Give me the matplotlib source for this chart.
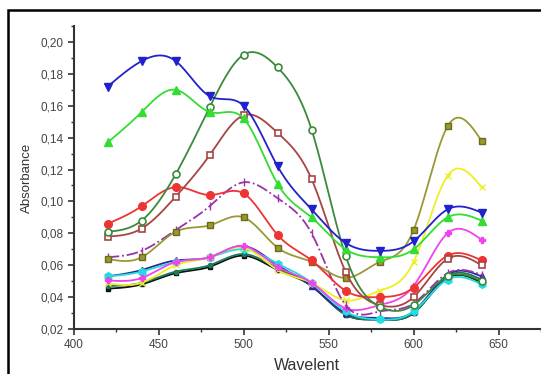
import numpy as np
import matplotlib.pyplot as plt
from matplotlib.patches import Rectangle
from matplotlib.ticker import MultipleLocator

plt.rcParams['font.family'] = ['Liberation Sans', 'DejaVu Sans']

# Comprimentos de onda medidos
wavelength = [420, 440, 460, 480, 500, 520, 540, 560, 580, 600, 620, 640]

# Absorbancias de cada amostra
abs_blue = [0.172, 0.188, 0.188, 0.166, 0.160, 0.122, 0.095, 0.074, 0.069, 0.075, 0.095, 0.093]
abs_green = [0.137, 0.156, 0.170, 0.156, 0.152, 0.111, 0.090, 0.070, 0.065, 0.070, 0.090, 0.088]
abs_darkgreen = [0.081, 0.088, 0.117, 0.159, 0.192, 0.184, 0.145, 0.066, 0.034, 0.035, 0.053, 0.050]
abs_brown = [0.078, 0.083, 0.103, 0.129, 0.154, 0.143, 0.114, 0.056, 0.035, 0.040, 0.064, 0.060]
abs_red = [0.086, 0.097, 0.109, 0.104, 0.105, 0.079, 0.063, 0.044, 0.040, 0.046, 0.066, 0.063]
abs_purple = [0.065, 0.069, 0.082, 0.097, 0.112, 0.102, 0.080, 0.035, 0.031, 0.036, 0.055, 0.054]
abs_olive = [0.064, 0.065, 0.081, 0.085, 0.090, 0.071, 0.062, 0.052, 0.062, 0.082, 0.147, 0.138]
abs_yellow = [0.0487, 0.049, 0.060, 0.065, 0.071, 0.057, 0.049, 0.038, 0.044, 0.062, 0.116, 0.109]
abs_magenta = [0.0505, 0.052, 0.062, 0.065, 0.072, 0.059, 0.049, 0.033, 0.035, 0.047, 0.080, 0.076]
abs_cyan = [0.053, 0.056, 0.062, 0.065, 0.070, 0.061, 0.049, 0.031, 0.026, 0.031, 0.051, 0.048]
abs_navy = [0.053, 0.057, 0.063, 0.065, 0.072, 0.060, 0.047, 0.030, 0.027, 0.031, 0.054, 0.053]
abs_teal = [0.047, 0.049, 0.056, 0.060, 0.067, 0.058, 0.047, 0.029, 0.026, 0.030, 0.053, 0.051]
abs_black = [0.0453, 0.048, 0.055, 0.059, 0.066, 0.057, 0.047, 0.029, 0.026, 0.030, 0.052, 0.049]

# Rotulos dos eixos
xticks = [400, 450, 500, 550, 600, 650]
yticks = [0.02, 0.04, 0.06, 0.08, 0.10, 0.12, 0.14, 0.16, 0.18, 0.20]
ytick_labels = ['0,02', '0,04', '0,06', '0,08', '0,10', '0,12', '0,14', '0,16', '0,18', '0,20']


# Spline cubica natural para suavizar as curvas
def spline(x, y, n=300):
    x = np.asarray(x, float)
    y = np.asarray(y, float)
    k = len(x)
    h = np.diff(x)
    A = np.zeros((k, k))
    r = np.zeros(k)
    A[0, 0] = 1
    A[-1, -1] = 1
    for i in range(1, k - 1):
        A[i, i - 1] = h[i - 1]
        A[i, i] = 2 * (h[i - 1] + h[i])
        A[i, i + 1] = h[i]
        r[i] = 3 * ((y[i + 1] - y[i]) / h[i] - (y[i] - y[i - 1]) / h[i - 1])
    c = np.linalg.solve(A, r)
    b = (y[1:] - y[:-1]) / h - h * (2 * c[:-1] + c[1:]) / 3
    d = (c[1:] - c[:-1]) / (3 * h)
    xs = np.linspace(x[0], x[-1], n)
    idx = np.clip(np.searchsorted(x, xs) - 1, 0, k - 2)
    dx = xs - x[idx]
    ys = y[idx] + b[idx] * dx + c[idx] * dx ** 2 + d[idx] * dx ** 3
    return xs, ys


series = [
    (abs_black, '#111111', 's', '#111111', 3, '-'),
    (abs_teal, '#1a7a5a', 'o', '#1a7a5a', 3, '-'),
    (abs_navy, '#2a2a99', '^', '#2a2a99', 4, '-'),
    (abs_cyan, '#22dddd', 'h', '#22dddd', 5.5, '-'),
    (abs_yellow, '#eeee22', 'x', '#eeee22', 4.5, '-'),
    (abs_magenta, '#ee44ee', 'P', '#ee44ee', 4.5, '-'),
    (abs_purple, '#9933aa', '|', '#9933aa', 5.5, '-.'),
    (abs_olive, '#999933', 's', '#6b6b1a', 5, '-'),
    (abs_red, '#ee3333', 'o', '#ee3333', 5.5, '-'),
    (abs_brown, '#a84444', 's', 'none', 4.5, '-'),
    (abs_darkgreen, '#3a8a3a', 'o', 'none', 5, '-'),
    (abs_green, '#33dd33', '^', '#33dd33', 6, '-'),
    (abs_blue, '#2222cc', 'v', '#2222cc', 6, '-'),
]

fig = plt.figure(figsize=(5.41, 3.74), dpi=100)
ax = fig.add_axes([0.1362, 0.1203, 0.8638, 0.8102])

for vals, cor, marc, face, ms, ls in series:
    xs, ys = spline(wavelength, vals)
    ax.plot(xs, ys, color=cor, linewidth=1.3, linestyle=ls)
    if face == 'none':
        ax.plot(wavelength, vals, linestyle='none', marker=marc, markersize=ms,
                markerfacecolor='white', markeredgecolor=cor, markeredgewidth=1.2)
    else:
        ax.plot(wavelength, vals, linestyle='none', marker=marc, markersize=ms,
                markerfacecolor=cor, markeredgecolor=face, markeredgewidth=1.0)

ax.set_xlim(400, 675)
ax.set_ylim(0.02, 0.21)
ax.set_xticks(xticks)
ax.set_xticklabels([str(t) for t in xticks])
ax.set_yticks(yticks)
ax.set_yticklabels(ytick_labels)
ax.xaxis.set_minor_locator(MultipleLocator(25))
ax.yaxis.set_minor_locator(MultipleLocator(0.01))

ax.spines['top'].set_visible(False)
ax.spines['right'].set_visible(False)
for s in ['left', 'bottom']:
    ax.spines[s].set_color('#333333')
    ax.spines[s].set_linewidth(1.5)
ax.tick_params(which='major', length=4, width=1.2, color='#333333',
               labelsize=8.5, labelcolor='#444444')
ax.tick_params(which='minor', length=2.5, width=1.0, color='#333333')

ax.set_xlabel('Wavelent', fontsize=11.5, color='#333333', labelpad=5)
ax.set_ylabel('Absorbance', fontsize=9.5, color='#333333', labelpad=5)

# Moldura preta em volta da figura
fig.patches.append(Rectangle((8 / 541, -0.2), 1.2, 1.2 - 10 / 374,
                             transform=fig.transFigure, fill=False,
                             edgecolor='black', linewidth=1.8))

plt.savefig('out.png', dpi=100)
